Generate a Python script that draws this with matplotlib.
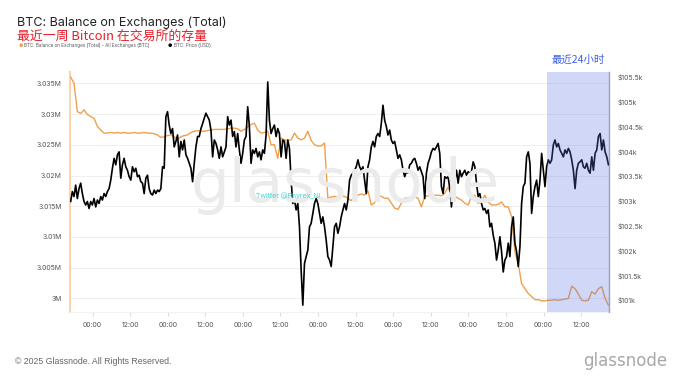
import matplotlib.pyplot as plt
import numpy as np
from matplotlib.ticker import FuncFormatter

plt.rcParams['font.family'] = ['Inter', 'Noto Sans CJK SC', 'DejaVu Sans']

# BTC price in $k, one sample every 32 minutes, first sample at -7 h
price_k = [
    102.99, 103.19, 103.09, 103.32, 103.05, 103.25, 103.36, 103.15, 102.99, 102.92,
    102.99, 102.85, 102.99, 102.92, 103.05, 102.88, 103.02, 102.95, 103.09, 103.02,
    103.15, 103.09, 103.19, 103.25, 103.42, 103.66, 103.86, 103.73, 103.93, 103.99,
    103.46, 103.73, 103.86, 103.69, 103.62, 103.49, 103.42, 103.69, 103.59, 103.66,
    103.49, 103.52, 103.39, 103.36, 103.15, 103.46, 103.52, 103.25, 103.15, 103.12,
    103.22, 103.15, 103.22, 103.19, 103.25, 103.69, 103.66, 104.70, 104.80, 104.53,
    104.36, 104.46, 104.09, 104.20, 104.33, 103.89, 104.20, 104.03, 104.23, 103.93,
    103.86, 103.76, 103.66, 103.39, 103.76, 104.09, 104.30,
    104.30, 104.46, 104.56, 104.67, 104.77, 104.70, 104.63, 104.43, 103.89, 104.23,
    104.16, 104.03, 103.86, 104.09, 103.89, 103.99, 104.09, 104.70, 104.53, 104.63,
    104.30, 104.40, 104.09, 104.36, 104.03, 103.76, 103.96, 104.23, 104.30, 104.90,
    104.50, 103.76, 104.03, 103.96, 104.06, 103.89, 103.99, 103.83, 104.03, 103.96,
    104.33, 105.40, 104.63, 104.36, 104.46, 104.53, 104.30, 104.46, 104.36, 103.89,
    104.23, 104.20, 103.86, 104.23, 104.06, 103.42, 102.95, 103.02, 102.82, 102.95,
    102.48, 101.61, 100.90, 101.74, 101.88, 102.01, 102.48, 102.55, 102.75, 102.95,
    103.05, 102.95, 102.75, 102.55, 102.68, 102.48, 102.21, 101.88, 101.81, 101.68,
    102.08,
    102.48, 102.55, 102.35, 102.48, 102.68, 102.82, 102.95, 102.82, 103.02, 103.42,
    103.52, 103.56, 103.62, 103.69, 103.83, 103.69, 103.62, 103.69, 103.42, 103.15,
    103.69, 103.83, 104.09, 104.20, 104.09, 104.30, 104.36, 104.30, 104.56, 104.93,
    104.63, 104.50, 104.33, 104.43, 104.23, 104.16, 104.20, 104.03, 103.86, 103.93,
    103.83, 103.62, 103.49, 103.59, 103.56, 103.73, 103.76, 103.83, 103.86, 103.76,
    103.62, 103.69, 103.59, 103.49, 103.05, 103.56, 103.76, 103.86, 103.99, 104.06,
    104.03, 104.09, 104.16, 103.96, 103.29, 103.15, 103.49, 103.46, 103.49, 103.25,
    102.88, 103.29, 103.42, 103.62, 103.36, 103.62, 103.49, 103.56, 103.62, 103.52,
    103.59,
    103.56, 103.59, 103.79, 103.69, 103.36, 103.09, 103.15, 102.95, 102.82, 102.85,
    102.75, 102.82, 102.48, 102.55, 102.31, 102.15, 101.81, 102.01, 102.28, 101.98,
    101.57, 101.81, 101.88, 102.15, 101.88, 102.48, 102.68, 102.15, 101.98, 101.68,
    102.08, 102.95, 103.29, 103.36, 103.89, 103.99, 103.76, 102.75, 103.09, 103.29,
    103.42, 103.09, 103.42, 103.96, 103.62, 103.29, 103.69, 103.83, 103.76, 103.83,
    104.13, 104.23, 104.09, 104.16, 104.03, 103.96, 103.89, 104.03, 103.96, 104.06,
    103.99, 103.83, 103.62, 103.25, 103.62, 103.76, 103.79, 103.83, 103.69, 103.66,
    103.76, 103.62, 103.56, 103.89, 103.62, 103.96, 104.03, 104.30, 104.36, 104.03,
    104.23, 103.99, 103.89, 103.73,
]

# balance on exchanges in M BTC, one sample every 64 minutes, first at -7 h
balance_m = [
    3.0360, 3.0350, 3.0304, 3.0301, 3.0307, 3.0299, 3.0296, 3.0293, 3.0280, 3.0274,
    3.0269, 3.0269, 3.0270, 3.0269, 3.0270, 3.0269, 3.0270, 3.0269, 3.0269, 3.0270,
    3.0269, 3.0269, 3.0270, 3.0269, 3.0269, 3.0268, 3.0266, 3.0262, 3.0263, 3.0265,
    3.0266, 3.0263, 3.0259, 3.0263, 3.0265, 3.0266, 3.0270, 3.0272, 3.0273,
    3.0272, 3.0272, 3.0273, 3.0274, 3.0275, 3.0275, 3.0275, 3.0275, 3.0276, 3.0277,
    3.0277, 3.0276, 3.0272, 3.0275, 3.0279, 3.0283, 3.0285, 3.0274, 3.0269, 3.0270,
    3.0272, 3.0250, 3.0250, 3.0228, 3.0261, 3.0258, 3.0257, 3.0258, 3.0269, 3.0261,
    3.0258, 3.0261, 3.0272, 3.0257, 3.0250, 3.0248, 3.0248, 3.0253, 3.0163, 3.0165,
    3.0166, 3.0165, 3.0167, 3.0166, 3.0163, 3.0159, 3.0166, 3.0168, 3.0170, 3.0168,
    3.0175, 3.0152, 3.0156, 3.0168, 3.0166, 3.0163, 3.0163, 3.0155, 3.0147, 3.0145,
    3.0155, 3.0163, 3.0163, 3.0166, 3.0165, 3.0163, 3.0149, 3.0166, 3.0167, 3.0167,
    3.0168, 3.0168, 3.0167, 3.0171, 3.0181, 3.0168, 3.0166, 3.0163, 3.0160, 3.0155,
    3.0152,
    3.0166, 3.0168, 3.0155, 3.0157, 3.0168, 3.0157, 3.0152, 3.0152, 3.0153, 3.0157,
    3.0149, 3.0149, 3.0133, 3.0076, 3.0057, 3.0024, 3.0016, 3.0008, 3.0003, 2.9998,
    2.9998, 2.9996, 2.9996, 2.9997, 2.9997, 2.9998, 2.9997, 2.9998, 2.9999, 3.0000,
    3.0020, 3.0016, 3.0007, 2.9997, 2.9996, 2.9997, 3.0011, 3.0007, 3.0016, 3.0019,
    3.0000, 2.9989,
]

t_price = -7.0 + np.arange(len(price_k)) * (32 / 60)
t_bal = -7.0 + np.arange(len(balance_m)) * (64 / 60)

left_ticks = [3.0, 3.005, 3.01, 3.015, 3.02, 3.025, 3.03, 3.035]
right_ticks = [101, 101.5, 102, 102.5, 103, 103.5, 104, 104.5, 105, 105.5]
x_ticks = list(range(0, 157, 12))
x_labels = ['00:00' if h % 24 == 0 else '12:00' for h in x_ticks]

fig = plt.figure(figsize=(6.8, 3.83), dpi=100)
ax = fig.add_axes([0.103, 0.185, 0.793, 0.627])
ax2 = ax.twinx()

ax.plot(t_bal, balance_m, color='#f0a04b', lw=1.0, zorder=3)
ax2.plot(t_price, price_k, color='#000000', lw=1.2, zorder=3)

# last 24h highlight, drawn over the lines
ax2.axvspan(145, 165, color='#5a74e4', alpha=0.28, lw=0, zorder=5)

ax.set_xlim(-7.2, 165.0)
ax.set_ylim(2.99777, 3.03684)
ax2.set_ylim(100.76, 105.60)

ax.set_yticks(left_ticks)
ax.yaxis.set_major_formatter(FuncFormatter(lambda v, p: ('%.3f' % v).rstrip('0').rstrip('.') + 'M'))
ax2.set_yticks(right_ticks)
ax2.yaxis.set_major_formatter(FuncFormatter(lambda v, p: '$' + ('%.1f' % v).rstrip('0').rstrip('.') + 'k'))
ax.set_xticks(x_ticks)
ax.set_xticklabels(x_labels)

ax.grid(axis='y', color='#ececec', lw=0.6)
ax.set_axisbelow(True)
ax.tick_params(axis='y', length=0, labelsize=5, labelcolor='#555555', pad=6)
ax2.tick_params(axis='y', length=0, labelsize=5, labelcolor='#555555', pad=6)
ax.tick_params(axis='x', length=3, color='#dddddd', labelsize=5, labelcolor='#555555', pad=4)

for a in (ax, ax2):
    for side in ('top', 'left', 'right', 'bottom'):
        a.spines[side].set_visible(False)
ax.spines['left'].set_visible(True)
ax.spines['left'].set_color('#f9d4ad')
ax.spines['left'].set_linewidth(1.5)
ax.spines['bottom'].set_visible(True)
ax.spines['bottom'].set_color('#f3f3f3')
ax2.spines['right'].set_visible(True)
ax2.spines['right'].set_color('#9ea3b8')
ax2.spines['right'].set_linewidth(1.0)

# watermarks
fig.text(0.507, 0.515, 'glassnode', fontsize=44, color='#ebebeb', ha='center', va='center',
         family='DejaVu Sans', zorder=0)
fig.text(0.424, 0.488, 'Twitter @Phyrex_Ni', fontsize=5, color='#3fd8d0', ha='center', va='center')

fig.text(0.025, 0.941, 'BTC: Balance on Exchanges (Total)', fontsize=9, color='#222222', va='center')
fig.text(0.025, 0.903, '最近一周 Bitcoin 在交易所的存量', fontsize=9.3, color='#e8202a', va='center',
         family=['Noto Sans CJK SC', 'DejaVu Sans'])
fig.text(0.031, 0.881, '●', fontsize=3.5, color='#f0a04b', ha='center', va='center')
fig.text(0.036, 0.881, 'BTC: Balance on Exchanges (Total) - All Exchanges (BTC)', fontsize=3.3,
         color='#555555', va='center')
fig.text(0.250, 0.881, '●', fontsize=3.5, color='#000000', ha='center', va='center')
fig.text(0.256, 0.881, 'BTC: Price (USD)', fontsize=3.3, color='#555555', va='center')
fig.text(0.850, 0.843, '最近24小时', fontsize=7.5, color='#3c5ee8', ha='center', va='center',
         family=['Noto Sans CJK SC', 'DejaVu Sans'])

fig.text(0.022, 0.055, '© 2025 Glassnode. All Rights Reserved.', fontsize=6.3, color='#666666',
         va='center', family='Liberation Sans')
fig.text(0.981, 0.058, 'glassnode', fontsize=12, color='#a8a8a8', ha='right', va='center',
         family='DejaVu Sans')

fig.savefig('out.png', dpi=100)
